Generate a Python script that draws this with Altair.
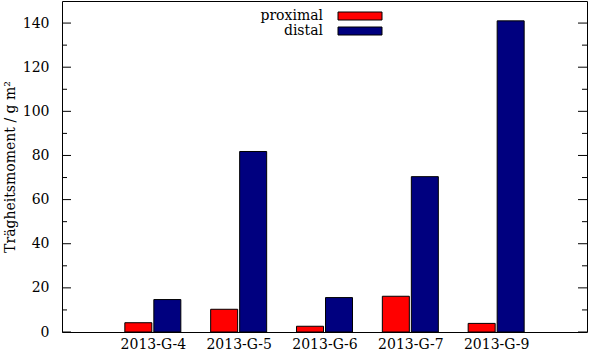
import json
import altair as alt
import pandas as pd

categories = ["2013-G-4", "2013-G-5", "2013-G-6", "2013-G-7", "2013-G-9"]
proximal = [4.2, 10.3, 2.6, 16.2, 3.9]
distal = [14.7, 81.8, 15.6, 70.4, 141.0]
series = ["proximal", "distal"]
colors = ["#ff0000", "#00007f"]
major_ticks = [0, 20, 40, 60, 80, 100, 120, 140]
minor_ticks = [10, 30, 50, 70, 90, 110, 130]

W, H = 525, 331
FONT = "DejaVu Serif"
FS = 14

df = pd.DataFrame({"idx": list(range(len(categories))), "cat": categories,
                   "proximal": proximal, "distal": distal})
ticks_major = pd.DataFrame({"v": major_ticks})
ticks_minor = pd.DataFrame({"v": minor_ticks})

label_expr = json.dumps(categories) + "[datum.value]"

xenc = alt.X("idx:Q",
             scale=alt.Scale(domain=[-1, 5], nice=False, zero=False),
             axis=alt.Axis(values=list(range(len(categories))), labelExpr=label_expr,
                           ticks=False, domain=False, grid=False, title=None,
                           labelFont=FONT, labelFontSize=FS, labelColor="black",
                           labelPadding=5))

yscale = alt.Scale(domain=[0, 150], nice=False, zero=True)


def yenc(field):
    return alt.Y(field, scale=yscale,
                 axis=alt.Axis(values=major_ticks, ticks=False, domain=False, grid=False,
                               title="Trägheitsmoment / g m²",
                               titleFont=FONT, titleFontSize=FS, titleFontWeight="normal",
                               titleColor="black", titlePadding=5,
                               labelFont=FONT, labelFontSize=FS, labelColor="black",
                               labelPadding=13))


bars_p = alt.Chart(df).mark_bar(size=27, xOffset=-14.5, color=colors[0],
                                stroke="black", strokeWidth=1).encode(
    x=xenc, y=yenc("proximal:Q"))
bars_d = alt.Chart(df).mark_bar(size=27, xOffset=14.5, color=colors[1],
                                stroke="black", strokeWidth=1).encode(
    x=xenc, y=yenc("distal:Q"))

layers = [bars_p, bars_d]
for tdf, ln in [(ticks_major, 9), (ticks_minor, 5)]:
    layers.append(alt.Chart(tdf).mark_rule(color="black", strokeWidth=1).encode(
        x=alt.value(0), x2=alt.value(ln), y=yenc("v:Q")))
    layers.append(alt.Chart(tdf).mark_rule(color="black", strokeWidth=1).encode(
        x=alt.value(W - ln), x2=alt.value(W), y=yenc("v:Q")))

one = pd.DataFrame({"a": [0]})
for i, (name, col) in enumerate(zip(series, colors)):
    y0 = 11 + 15 * i
    layers.append(alt.Chart(one).mark_rect(color=col, stroke="black", strokeWidth=1).encode(
        x=alt.value(276), x2=alt.value(320), y=alt.value(y0), y2=alt.value(y0 + 8)))
    layers.append(alt.Chart(one).mark_text(align="right", baseline="alphabetic",
                                           font=FONT, fontSize=FS, color="black").encode(
        x=alt.value(261), y=alt.value(y0 + 8), text=alt.value(name)))

chart = alt.layer(*layers).properties(
    width=W, height=H,
    autosize=alt.AutoSizeParams(type="none"),
    padding={"left": 62, "top": 1, "right": 2, "bottom": 20},
    background="white",
).configure_view(stroke="black", strokeWidth=1)

chart.save("out.html", embed_options={"renderer": "svg", "actions": False})
